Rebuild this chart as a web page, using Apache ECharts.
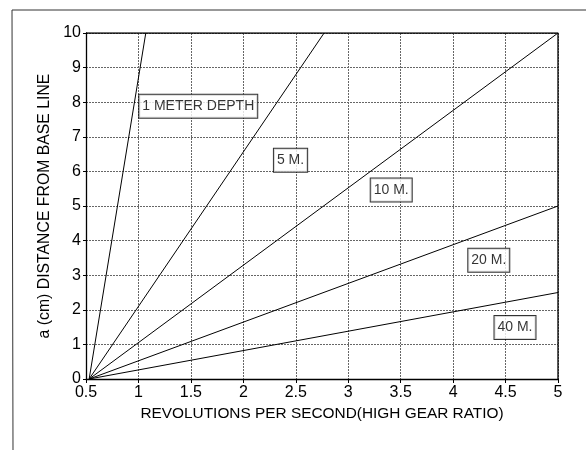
<!DOCTYPE html>
<html><head><meta charset="utf-8">
<script src="https://cdn.jsdelivr.net/npm/echarts@6/dist/echarts.min.js"></script>
<style>html,body{margin:0;padding:0;background:#fff}#c{width:586px;height:450px}</style>
</head><body><div id="c"></div>
<script>
// Data
const seriesNames = ['1 METER DEPTH', '5 M.', '10 M.', '20 M.', '40 M.'];
const line1m = [[0.53, 0], [1.07, 10]];
const line5m = [[0.53, 0], [2.77, 10]];
const line10m = [[0.53, 0], [5, 10]];
const line20m = [[0.53, 0], [5, 5]];
const line40m = [[0.53, 0], [5, 2.5]];
const labelPositions = [[1.57, 7.88], [2.45, 6.32], [3.41, 5.46], [4.34, 3.43], [4.59, 1.49]];
const xTicks = [0.5, 1, 1.5, 2, 2.5, 3, 3.5, 4, 4.5, 5];
const yTicks = [0, 1, 2, 3, 4, 5, 6, 7, 8, 9, 10];
const xTitle = 'REVOLUTIONS PER SECOND(HIGH GEAR RATIO)';
const yTitle = 'a (cm) DISTANCE FROM BASE LINE';

const FONT = '"Liberation Sans", Arial, sans-serif';
const chart = echarts.init(document.getElementById('c'), null, {renderer: 'canvas'});
const lines = [line1m, line5m, line10m, line20m, line40m];

const option = {
  animation: false,
  backgroundColor: '#fff',
  grid: {left: 86, right: 28, top: 33, bottom: 71, containLabel: false},
  xAxis: {
    type: 'value', min: xTicks[0], max: xTicks[xTicks.length - 1], interval: 0.5,
    name: xTitle, nameLocation: 'middle', nameGap: 27,
    nameTextStyle: {fontFamily: FONT, fontSize: 15.4, color: '#000'},
    axisLine: {show: true, lineStyle: {color: '#000', width: 1.3}},
    axisTick: {show: true, length: 4, lineStyle: {color: '#000'}},
    axisLabel: {fontFamily: FONT, fontSize: 16, color: '#000', margin: 6,
      formatter: v => String(+v.toFixed(1))},
    splitLine: {show: true, lineStyle: {color: '#666', type: [2, 1], width: 1}}
  },
  yAxis: {
    type: 'value', min: yTicks[0], max: yTicks[yTicks.length - 1], interval: 1,
    name: yTitle, nameLocation: 'middle', nameGap: 28,
    nameTextStyle: {fontFamily: FONT, fontSize: 15.8, color: '#000'},
    axisLine: {show: true, lineStyle: {color: '#000', width: 1.3}},
    axisTick: {show: true, length: 3, lineStyle: {color: '#000'}},
    axisLabel: {fontFamily: FONT, fontSize: 16, color: '#000', margin: 5},
    splitLine: {show: true, lineStyle: {color: '#666', type: [2, 1], width: 1}}
  },
  graphic: [
    {type: 'line', shape: {x1: 12, y1: 10, x2: 586, y2: 10}, style: {stroke: '#333', lineWidth: 1}},
    {type: 'line', shape: {x1: 12, y1: 10, x2: 13, y2: 450}, style: {stroke: '#333', lineWidth: 1}}
  ],
  series: [
    ...lines.map((d, i) => ({
      type: 'line', name: seriesNames[i], data: d, symbol: 'none',
      lineStyle: {color: '#000', width: 1}, silent: true
    })),
    {
      type: 'scatter', symbolSize: 0, silent: true,
      data: labelPositions.map((p, i) => ({value: p, name: seriesNames[i]})),
      label: {
        show: true, position: 'inside', formatter: p => p.name,
        fontFamily: FONT, fontSize: 14, color: '#000',
        backgroundColor: '#fff', borderColor: '#000', borderWidth: 1,
        padding: [5, 3, 4, 3]
      }
    },
    {
      type: 'line', data: [[0.5, 10], [5, 10], [5, 0]], symbol: 'none', silent: true,
      lineStyle: {color: '#000', width: 1.3}
    }
  ]
};
chart.setOption(option);
</script></body></html>
